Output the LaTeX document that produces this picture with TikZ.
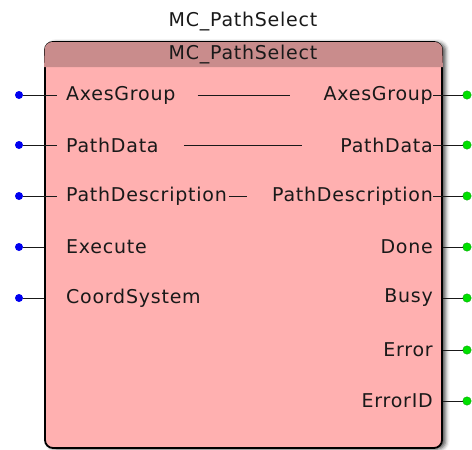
\documentclass[tikz,border=0pt]{standalone}
\usepackage{fontspec}
\setmainfont{DejaVu Sans}[LetterSpace=4]
\usetikzlibrary{positioning,calc,shadows.blur}
\definecolor{ccuerpo}{HTML}{FFB0B0}
\definecolor{ccabeza}{HTML}{C98C8C}
\definecolor{centrada}{HTML}{0000F0}
\definecolor{csalida}{HTML}{00E000}
\tikzset{
  bloquefb/.style={draw=black,line width=1.8pt,fill=ccuerpo,rounded corners=8pt,
                   minimum width=397pt,minimum height=406pt,inner sep=0pt,
                   blur shadow={shadow xshift=3.5pt,shadow yshift=-1pt,shadow blur radius=4pt,
                                shadow opacity=70}},
  txt/.style={font=\fontsize{19}{21}\selectfont,inner sep=0pt,text=black!90},
  etin/.style={txt,anchor=west},
  etout/.style={txt,anchor=east},
  pin/.style={draw=black!90,line width=1pt},
  din/.style={circle,fill=centrada,inner sep=0pt,minimum size=8pt},
  dout/.style={circle,fill=csalida,draw=green!60!black,line width=0.3pt,inner sep=0pt,minimum size=8.5pt},
}
\begin{document}
\begin{tikzpicture}[x=1pt,y=-1pt]
\useasboundingbox (0,0) rectangle (472,450);

% ---------------- bloque de función ----------------
\node[bloquefb] (fb) at (243.5,245) {};
\coordinate (hdr) at (0,67);
\fill[ccabeza] (fb.west |- hdr) {[rounded corners=7.1pt] -- ($(fb.north west)+(0.9,0.9)$) -- ($(fb.north east)+(-0.9,0.9)$)} -- (fb.east |- hdr) -- cycle;
\node[txt] (tit) at (243,22) {MC\_PathSelect};
\node[txt] (cab) at (243,55) {MC\_PathSelect};

% ---------------- entradas ----------------
\foreach \nom/\et/\y in {iAG/AxesGroup/95,iPD/PathData/145,iDesc/PathDescription/196,
                         iEx/Execute/247,iCS/CoordSystem/298}{
  \node[etin] (\nom) at (66,\y) {\et};
  \node[din] (p\nom) at (19,\y) {};
}
\draw[pin] (piAG) -- (57,95);
\draw[pin] (piPD) -- (57,145);
\draw[pin] (piDesc) -- (57,196);
\draw[pin] (piEx) -- (fb.west |- piEx);
\draw[pin] (piCS) -- (fb.west |- piCS);

% ---------------- salidas ----------------
\foreach \nom/\et/\y in {oAG/AxesGroup/95,oPD/PathData/145,oDesc/PathDescription/196,
                         oDn/Done/247,oBs/Busy/298,oEr/Error/350,oID/ErrorID/401}{
  \node[etout] (\nom) at (433,\y) {\et};
  \node[dout] (p\nom) at (467,\y) {};
}
\draw[pin] (oAG.east) -- (poAG);
\draw[pin] (oPD.east) -- (poPD);
\draw[pin] (oDesc.east) -- (poDesc);
\foreach \nom in {oDn,oBs,oEr,oID}
  \draw[pin] (fb.east |- p\nom) -- (p\nom);

% ---------------- enlaces entrada-salida ----------------
\draw[pin] (iAG.east) ++(22,0) -- ($(oAG.west)+(-33,0)$);
\draw[pin] (iPD.east) ++(25,0) -- ($(oPD.west)+(-38,0)$);
\draw[pin] (iDesc.east) ++(2,0) -- ($(oDesc.west)+(-25,0)$);

\end{tikzpicture}
\end{document}
